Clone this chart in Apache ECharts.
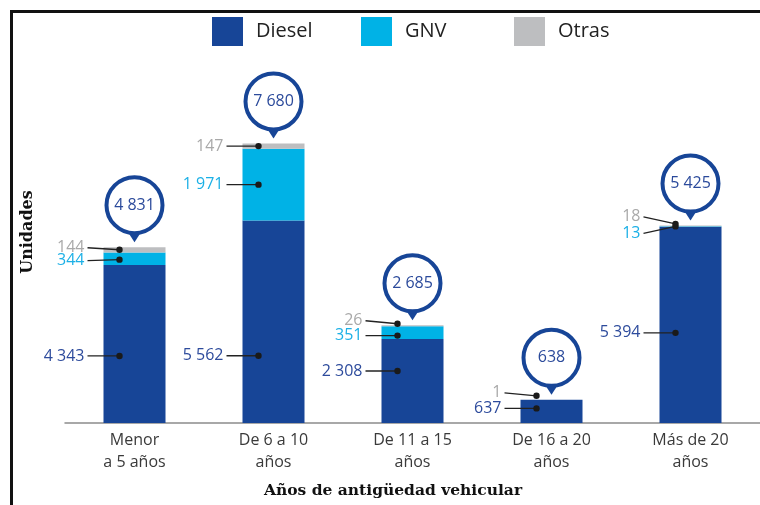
<!DOCTYPE html>
<html>
<head>
<meta charset="utf-8">
<script src="https://cdn.jsdelivr.net/npm/echarts@6/dist/echarts.min.js"></script>
<style>
  html, body { margin: 0; padding: 0; background: #fff; }
  #chart { width: 760px; height: 505px; }
</style>
</head>
<body>
<div id="chart"></div>
<script>
// datos
const categories = ['Menor\na 5 años', 'De 6 a 10\naños', 'De 11 a 15\naños', 'De 16 a 20\naños', 'Más de 20\naños']
const diesel = [4343, 5562, 2308, 637, 5394]
const gnv = [344, 1971, 351, null, 13]
const otras = [144, 147, 26, 1, 18]
const totals = [4831, 7680, 2685, 638, 5425]

// ajustes de posicion de las etiquetas (px): [desplazamiento del punto, desplazamiento del texto]
const dieselNudge = [[12, 0], [34, 0], [-10, 0], [-3, 0], [8, 0]]
const gnvNudge = [[1, 1], [0, 0], [3, 0], [0, 0], [0, 7]]
const otrasNudge = [[0, -2], [0, 0], [-2, -3], [-4, -3], [-2, -7]]

const C_DIESEL = '#174597'
const C_GNV = '#00b2e6'
const C_OTRAS = '#bdbec0'
const FONT = '"Open Sans", sans-serif'

const fmt = n => String(n).replace(/\B(?=(\d{3})+(?!\d))/g, ' ')

// puntos de etiqueta
const labelData = []
const kinds = [
  { vals: diesel, nudge: dieselNudge, color: '#2d4b9c' },
  { vals: gnv, nudge: gnvNudge, color: '#1cb0e6' },
  { vals: otras, nudge: otrasNudge, color: '#a9a9a9' }
]
categories.forEach((c, i) => {
  let base = 0
  kinds.forEach((k, ki) => {
    const v = k.vals[i]
    if (v != null) {
      labelData.push([i, base, v, ki, k.nudge[i][0], k.nudge[i][1]])
      base += v
    }
  })
})

const chart = echarts.init(document.getElementById('chart'))

const renderLabel = (params, api) => {
  const ci = api.value(0)
  const base = api.value(1)
  const v = api.value(2)
  const ki = api.value(3)
  const p = api.coord([ci, base + v / 2])
  const dx = p[0] - 15
  const dy = p[1] + api.value(4)
  const ty = dy + api.value(5)
  return {
    type: 'group',
    children: [
      { type: 'line', shape: { x1: dx - 32, y1: ty, x2: dx, y2: dy }, style: { stroke: '#222', lineWidth: 1.3 } },
      { type: 'circle', shape: { cx: dx, cy: dy, r: 3.2 }, style: { fill: '#1a1a1a' } },
      {
        type: 'text', x: dx - 35, y: ty,
        style: { text: fmt(v), align: 'right', verticalAlign: 'middle', fill: kinds[ki].color, font: '16px ' + FONT }
      }
    ]
  }
}

const renderPin = (params, api) => {
  const ci = api.value(0)
  const total = api.value(1)
  const p = api.coord([ci, total])
  const tip = p[1] - 5
  const cy = tip - 37
  return {
    type: 'group',
    children: [
      { type: 'polygon', shape: { points: [[p[0] - 11, cy + 20], [p[0] + 11, cy + 20], [p[0], tip]] }, style: { fill: C_DIESEL } },
      { type: 'circle', shape: { cx: p[0], cy: cy, r: 28 }, style: { fill: '#fff', stroke: C_DIESEL, lineWidth: 4 } },
      {
        type: 'text', x: p[0], y: cy,
        style: { text: fmt(total), align: 'center', verticalAlign: 'middle', fill: '#2b4a9b', font: '16px ' + FONT }
      }
    ]
  }
}

const legendItem = (name, left) => ({
  left: left, top: 17, padding: 0,
  icon: 'rect',
  itemWidth: 31, itemHeight: 29,
  textStyle: { fontFamily: FONT, fontSize: 20, color: '#222', padding: [0, 0, 0, 8] },
  data: [name]
})

chart.setOption({
  animation: false,
  grid: { left: 65, right: 0, top: 59, bottom: 82 },
  legend: [legendItem('Diesel', 212), legendItem('GNV', 361), legendItem('Otras', 514)],
  xAxis: {
    type: 'category',
    data: categories,
    axisLine: { lineStyle: { color: '#8c8c8c', width: 1.5 } },
    axisTick: { show: false },
    axisLabel: { margin: 6, fontFamily: FONT, fontSize: 16, color: '#3a3a3a', lineHeight: 22 }
  },
  yAxis: {
    type: 'value', min: 0, max: 10000,
    axisLine: { show: false }, axisTick: { show: false },
    axisLabel: { show: false }, splitLine: { show: false }
  },
  graphic: [
    { type: 'line', shape: { x1: 11.5, y1: 10, x2: 11.5, y2: 505 }, style: { stroke: '#111', lineWidth: 3 } },
    { type: 'line', shape: { x1: 10, y1: 11.5, x2: 760, y2: 11.5 }, style: { stroke: '#111', lineWidth: 3 } },
    {
      type: 'text', x: 28, y: 232, rotation: Math.PI / 2,
      style: { text: 'Unidades', align: 'center', verticalAlign: 'middle', fill: '#111', font: 'bold 16px "DejaVu Serif", serif' }
    },
    {
      type: 'text', x: 393, y: 491,
      style: { text: 'Años de antigüedad vehicular', align: 'center', verticalAlign: 'middle', fill: '#111', font: 'bold 15.5px "DejaVu Serif", serif' }
    }
  ],
  series: [
    { name: 'Diesel', type: 'bar', stack: 'u', barWidth: 62, itemStyle: { color: C_DIESEL }, data: diesel },
    { name: 'GNV', type: 'bar', stack: 'u', barWidth: 62, itemStyle: { color: C_GNV }, data: gnv },
    { name: 'Otras', type: 'bar', stack: 'u', barWidth: 62, itemStyle: { color: C_OTRAS }, data: otras },
    { type: 'custom', z: 10, renderItem: renderLabel, data: labelData, silent: true },
    { type: 'custom', z: 11, renderItem: renderPin, data: totals.map((t, i) => [i, t]), silent: true }
  ]
})
</script>
</body>
</html>
